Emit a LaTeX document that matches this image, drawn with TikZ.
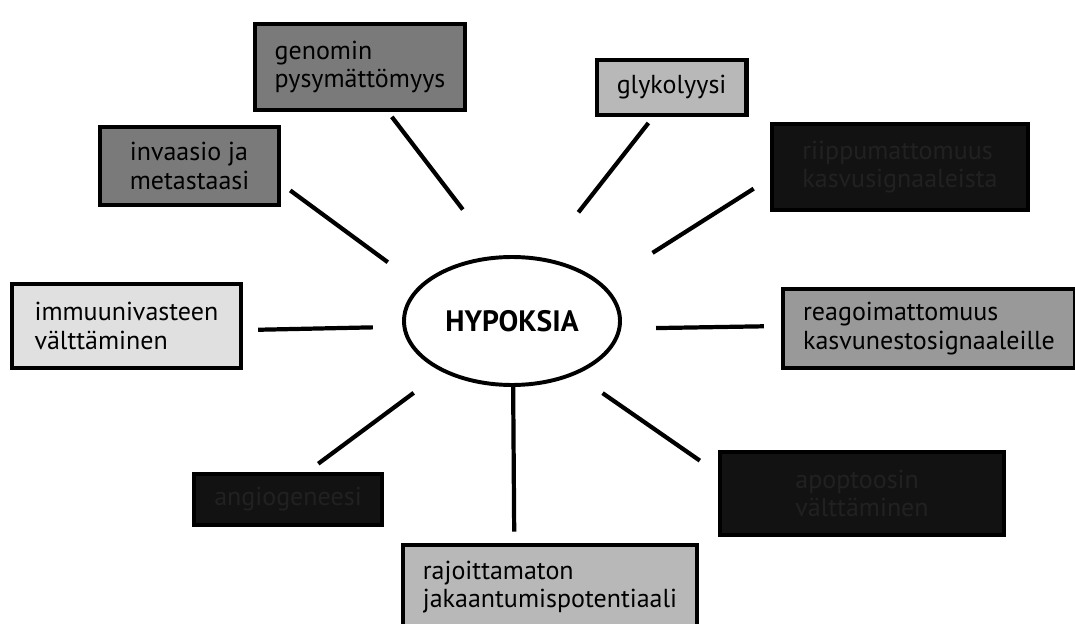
\documentclass[tikz,border=0pt]{standalone}
\usepackage{fontspec}
\setmainfont{PT Sans}
\definecolor{shadewhite}{gray}{0.88}
\definecolor{shadelight}{gray}{0.72}
\definecolor{shademid}{gray}{0.60}
\definecolor{shadedark}{gray}{0.48}
\definecolor{shadeblack}{gray}{0.07}
\definecolor{hiddentext}{gray}{0.13}
\usetikzlibrary{shapes.geometric,positioning}

\tikzset{
  hallmark/.style={draw, line width=3pt, align=left, inner xsep=0.5cm,
    font=\fontsize{18.5}{20}\selectfont},
  link/.style={line width=3pt},
}

\begin{document}
\begin{tikzpicture}
    \useasboundingbox (0,0) rectangle (26.875,15.575);

    % Center ellipse
    \node[draw, ellipse, line width=2.8pt, minimum width=5.4cm, minimum height=3.2cm,
      font=\fontsize{21}{24}\selectfont\bfseries] (hyp) at (12.8,7.55) {HYPOKSIA};

    % Hallmark boxes
    \node[hallmark, fill=shadedark, minimum width=4.25cm, minimum height=2.15cm] (genom) at (9.0,13.9) {genomin\\pysymättömyys};
    \node[hallmark, fill=shadelight, minimum width=3.675cm, minimum height=1.375cm] (glyk) at (16.79,13.39) {glykolyysi};
    \node[hallmark, fill=shadedark, minimum width=4.475cm, minimum height=1.95cm] (inv) at (4.74,11.425) {invaasio ja\\metastaasi};
    \node[hallmark, fill=shadeblack, text=hiddentext, minimum width=6.4cm, minimum height=2.15cm] (riip) at (22.5,11.4) {riippumattomuus\\kasvusignaaleista};
    \node[hallmark, fill=shadewhite, minimum width=5.725cm, minimum height=2.1cm] (imm) at (3.16,7.425) {immuunivasteen\\välttäminen};
    \node[hallmark, fill=shademid, minimum width=6.75cm, minimum height=1.975cm] (reag) at (23.225,7.36) {reagoimattomuus\\kasvunestosignaaleille};
    \node[hallmark, fill=shadeblack, text=hiddentext, minimum width=3.55cm, minimum height=1.275cm] (ang) at (7.2,3.09) {angiogeneesi};
    \node[hallmark, fill=shadeblack, text=hiddentext, minimum width=7.1cm, minimum height=2.075cm] (apop) at (21.55,3.24) {apoptoosin\\välttäminen};
    \node[hallmark, fill=shadelight, minimum width=5.75cm, minimum height=2.1cm] (raj) at (13.75,0.9) {rajoittamaton\\jakaantumispotentiaali};

    % Spokes
    \draw[link, shorten <=1.45cm, shorten >=0.15cm] (hyp.102) -- (genom.-58);
    \draw[link, shorten <=1.44cm, shorten >=0.19cm] (hyp.64) -- (glyk.-122);
    \draw[link, shorten <=0.98cm, shorten >=0.28cm] (hyp.159) -- (inv.-11);
    \draw[link, shorten <=1.46cm, shorten >=0.48cm] (hyp.22) -- (riip.185);
    \draw[link, shorten <=0.74cm, shorten >=0.38cm] (hyp.183) -- (imm.-2);
    \draw[link, shorten <=0.87cm, shorten >=0.43cm] (hyp.-4) -- (reag.179);
    \draw[link, shorten <=0.88cm, shorten >=0.34cm] (hyp.216) -- (ang.55);
    \draw[link, shorten <=0.81cm, shorten >=0.55cm] (hyp.-40) -- (apop.172);
    \draw[link, shorten >=0.28cm] (hyp.-89) -- (raj.129);
\end{tikzpicture}
\end{document}
